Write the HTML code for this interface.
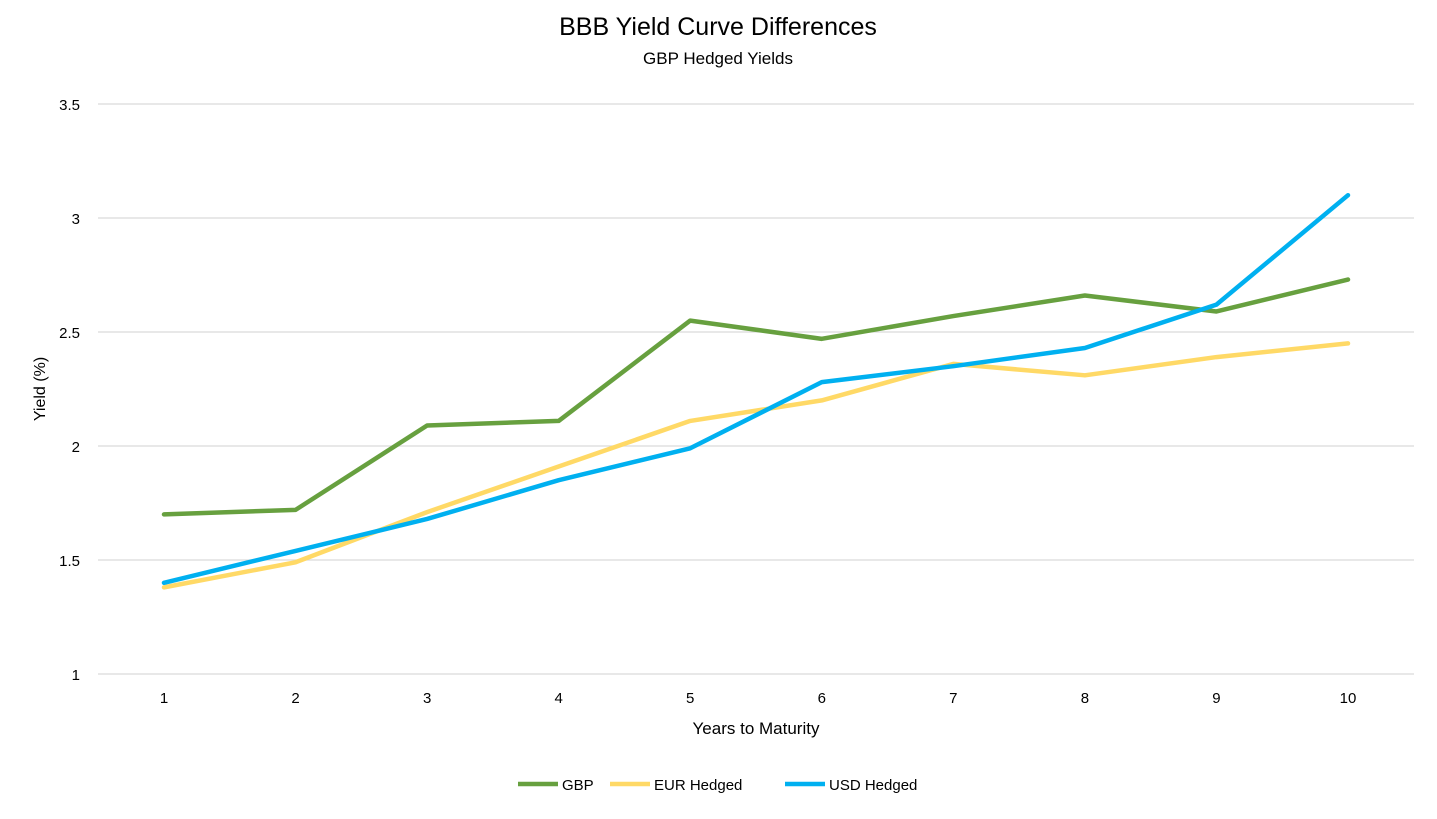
<!DOCTYPE html>
<html><head><meta charset="utf-8"><style>
body{margin:0;background:#fff;font-family:"Liberation Sans",sans-serif}
</style></head><body>
<svg id="chart" width="1437" height="814" xmlns="http://www.w3.org/2000/svg" font-family="Liberation Sans, sans-serif">
<text x="718" y="35" text-anchor="middle" font-size="25" fill="#000">BBB Yield Curve Differences</text>
<text x="718" y="64" text-anchor="middle" font-size="17" fill="#000">GBP Hedged Yields</text>
<g id="grid"></g><g id="xt"></g><g id="yt"></g><g id="lines"></g>
<text x="756" y="734" text-anchor="middle" font-size="17" fill="#000">Years to Maturity</text>
<text transform="translate(45,389) rotate(-90)" text-anchor="middle" font-size="16" fill="#000">Yield (%)</text>
<g id="legend"></g>
</svg>
<script>
const categories=[1,2,3,4,5,6,7,8,9,10];
const gbp=[1.70,1.72,2.09,2.11,2.55,2.47,2.57,2.66,2.59,2.73];
const eur=[1.38,1.49,1.71,1.91,2.11,2.20,2.36,2.31,2.39,2.45];
const usd=[1.40,1.54,1.68,1.85,1.99,2.28,2.35,2.43,2.62,3.10];
const yTicks=[1,1.5,2,2.5,3,3.5];
const seriesNames=["GBP","EUR Hedged","USD Hedged"];
const NS="http://www.w3.org/2000/svg";
const x=i=>164+(1348-164)*i/9;
const y=v=>674-(v-1)*228;
function mk(t,a,p){const e=document.createElementNS(NS,t);for(const k in a)e.setAttribute(k,a[k]);document.getElementById(p).appendChild(e);return e;}
yTicks.forEach(v=>{
 const l=mk('line',{x1:98,x2:1414,y1:y(v),y2:y(v),stroke:'#d9d9d9','stroke-width':1.3},'grid');
 
 
 const t=mk('text',{x:80,y:y(v)+6,'text-anchor':'end','font-size':15},'yt');t.textContent=v;
 
 
});
categories.forEach((c,i)=>{
 const t=mk('text',{x:x(i),y:703,'text-anchor':'middle','font-size':15},'xt');t.textContent=c;
 
 
});
const cols=['#67a03f','#ffd966','#00b0f0'];
[gbp,eur,usd].forEach((s,k)=>{
 const p=mk('polyline',{points:s.map((v,i)=>x(i)+','+y(v)).join(' '),fill:'none',stroke:cols[k],'stroke-width':4.5,'stroke-linejoin':'round','stroke-linecap':'round'},'lines');
 
 
});
const lx=[518,610,785];
seriesNames.forEach((n,k)=>{
 const l=mk('line',{x1:lx[k],x2:lx[k]+40,y1:784,y2:784,stroke:cols[k],'stroke-width':4.5},'legend');
 
 
 const t=mk('text',{x:lx[k]+44,y:790,'font-size':15},'legend');t.textContent=n;
 
 
});
</script>
</body></html>
